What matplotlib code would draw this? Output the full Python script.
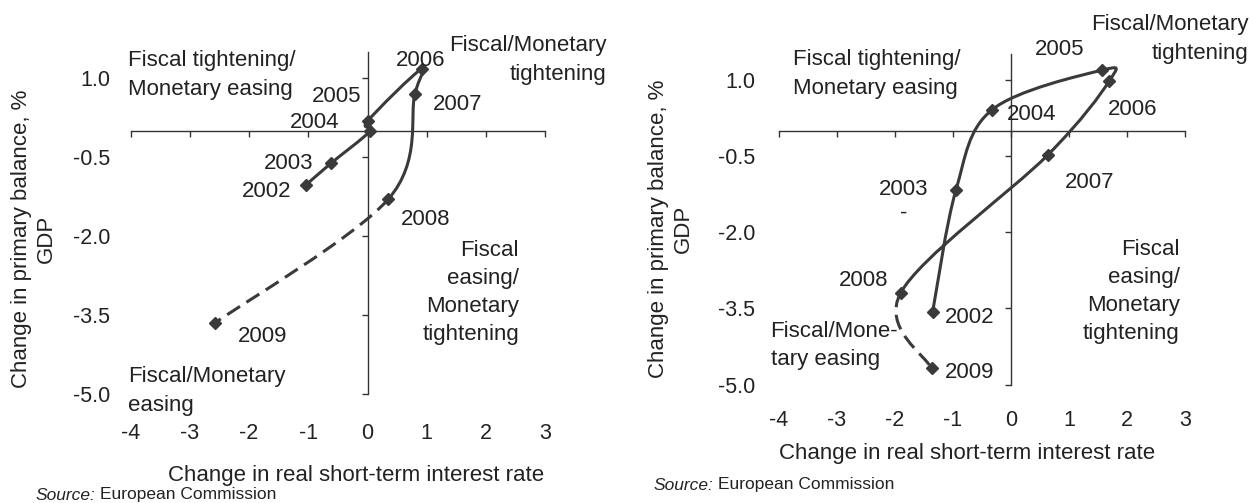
import matplotlib
matplotlib.use("Agg")
import matplotlib.pyplot as plt
import numpy as np
from matplotlib.path import Path
from matplotlib.patches import PathPatch

plt.rcParams['font.family'] = ['Liberation Sans', 'DejaVu Sans']
plt.rcParams['axes.unicode_minus'] = False

# data
years = [2002, 2003, 2004, 2005, 2006, 2007, 2008, 2009]
left_x = [-1.04, -0.62, 0.05, 0.0, 0.92, 0.80, 0.35, -2.58]
left_y = [-1.03, -0.62, 0.0, 0.18, 1.18, 0.70, -1.30, -3.65]
right_x = [-1.35, -0.95, -0.33, 1.56, 1.69, 0.63, -1.90, -1.37]
right_y = [-3.56, -1.17, 0.41, 1.19, 0.98, -0.48, -3.19, -4.68]

x_ticks = [-4, -3, -2, -1, 0, 1, 2, 3]
y_ticks = [1.0, -0.5, -2.0, -3.5, -5.0]

# year label positions (data coords)
left_lab = [(-1.70, -1.16), (-1.34, -0.62), (-0.89, 0.15), (-0.52, 0.645),
            (0.895, 1.34), (1.525, 0.49), (0.98, -1.69), (-1.765, -3.91)]
right_lab = [(-0.71, -3.67), (-1.857, -1.167), (0.353, 0.309), (0.84, 1.59),
             (2.10, 0.41), (1.344, -1.02), (-2.546, -2.94), (-0.71, -4.76)]

LINE = '#3a3a3a'
TXT = '#222222'
FS = 16
LS = 1.45


def bezier_path(xs, ys, i0, i1):
    # smoothed line (Excel-like) between points i0..i1
    pts = np.column_stack([xs, ys])
    n = len(pts)
    verts = [pts[i0]]
    codes = [Path.MOVETO]
    for i in range(i0, i1):
        prev = pts[i - 1] if i > 0 else pts[i]
        nxt = pts[i + 2] if i + 2 < n else pts[i + 1]
        c1 = pts[i] + (pts[i + 1] - prev) / 6
        c2 = pts[i + 1] - (nxt - pts[i]) / 6
        verts += [c1, c2, pts[i + 1]]
        codes += [Path.CURVE4] * 3
    return Path(verts, codes)


def draw_chart(rect, xs, ys, labs, quads, xpad, ypad):
    ax = fig.add_axes(rect)
    ax.set_xlim(-4, 3)
    ax.set_ylim(-5, 1.5)
    for s in ax.spines.values():
        s.set_visible(False)
    ax.set_xticks(x_ticks, labels=[str(v) for v in x_ticks])
    ax.set_yticks(y_ticks, labels=['%.1f' % v for v in y_ticks])
    ax.tick_params(axis='x', length=0, pad=xpad, labelsize=15.5, labelcolor=TXT)
    ax.tick_params(axis='y', length=0, pad=ypad, labelsize=15.5, labelcolor=TXT)

    # axes crossing at zero
    secx = ax.secondary_xaxis(0, transform=ax.transData)
    secx.set_xticks(x_ticks)
    secx.tick_params(length=4, width=1, color='#333333', labelbottom=False, labeltop=False)
    secy = ax.secondary_yaxis(0, transform=ax.transData)
    secy.set_yticks(y_ticks)
    secy.tick_params(length=4, width=1, color='#333333', labelleft=False, labelright=False)
    for sa in (secx, secy):
        for s in sa.spines.values():
            s.set_color('#333333')
            s.set_linewidth(1.0)

    ax.add_patch(PathPatch(bezier_path(xs, ys, 0, 6), fill=False, ec=LINE, lw=2.2,
                           capstyle='round', joinstyle='round'))
    ax.add_patch(PathPatch(bezier_path(xs, ys, 6, 7), fill=False, ec=LINE, lw=2.2,
                           linestyle=(0, (5, 2.5))))
    ax.plot(xs, ys, linestyle='none', marker='D', ms=6, color=LINE)

    for yr, (lx, ly) in zip(years, labs):
        ax.text(lx, ly, str(yr), fontsize=FS, color=TXT, ha='center', va='center')
    for txt, qx, qy, ha in quads:
        ax.text(qx, qy, txt, fontsize=FS, color=TXT, ha=ha, va='center',
                multialignment=ha, linespacing=LS, clip_on=False)
    return ax


fig = plt.figure(figsize=(12.52, 5.03), dpi=100)

left_quads = [
    ('Fiscal tightening/\nMonetary easing', -4.05, 1.056, 'left'),
    ('Fiscal/Monetary\ntightening', 4.035, 1.34, 'right'),
    ('Fiscal\neasing/\nMonetary\ntightening', 2.56, -3.07, 'right'),
    ('Fiscal/Monetary\neasing', -4.045, -4.94, 'left'),
]
right_quads = [
    ('Fiscal tightening/\nMonetary easing', -3.76, 1.116, 'left'),
    ('Fiscal/Monetary\ntightening', 4.09, 1.805, 'right'),
    ('Fiscal\neasing/\nMonetary\ntightening', 2.90, -3.165, 'right'),
    ('Fiscal/Mone-\ntary easing', -4.14, -4.234, 'left'),
]

ax1 = draw_chart([0.1044, 0.2163, 0.331, 0.681], left_x, left_y, left_lab,
                 left_quads, 21, 15)
ax2 = draw_chart([0.622, 0.2352, 0.3248, 0.6565], right_x, right_y, right_lab,
                 right_quads, 18, 17)
ax2.text(-1.845, -1.62, '-', fontsize=FS, color=TXT, ha='center', va='center')

# axis titles
ylab = 'Change in primary balance, %\nGDP'
fig.text(34 / 1252, 1 - 239 / 503, ylab, rotation=90, fontsize=FS, color=TXT,
         ha='center', va='center', multialignment='center', linespacing=1.25)
fig.text(671 / 1252, 1 - 229 / 503, ylab, rotation=90, fontsize=FS, color=TXT,
         ha='center', va='center', multialignment='center', linespacing=1.25)
xlab = 'Change in real short-term interest rate'
fig.text(356 / 1252, 1 - 475 / 503, xlab, fontsize=FS, color=TXT, ha='center', va='center')
fig.text(967 / 1252, 1 - 453 / 503, xlab, fontsize=FS, color=TXT, ha='center', va='center')

# source notes
for sx, sy in [(35, 495), (653, 485)]:
    src = fig.text(sx / 1252, 1 - sy / 503, 'Source:', fontsize=12.5, style='italic',
                   color=TXT, va='center')
    plt.annotate('European Commission', xy=(1, 0.5), xycoords=src, xytext=(4, 0),
                 textcoords='offset points', fontsize=12.5, color=TXT, va='center',
                 annotation_clip=False)

fig.savefig('out.png', dpi=100, facecolor='white')
